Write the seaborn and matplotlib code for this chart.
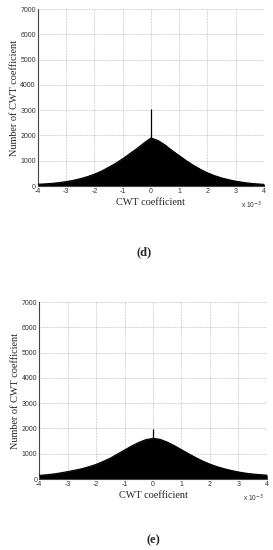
import matplotlib
matplotlib.use("Agg")
import matplotlib.pyplot as plt
import seaborn as sns
import numpy as np
import pandas as pd

# CWT coefficient (units of 1e-3)
coef = [-4.0, -3.75, -3.5, -3.25, -3.0, -2.75, -2.5, -2.25, -2.0, -1.75, -1.5, -1.25,
        -1.0, -0.75, -0.5, -0.25, 0.0, 0.25, 0.5, 0.75, 1.0, 1.25, 1.5, 1.75,
        2.0, 2.25, 2.5, 2.75, 3.0, 3.25, 3.5, 3.75, 4.0]
counts_d = [70, 85, 105, 135, 175, 225, 290, 370, 470, 590, 740, 900,
            1080, 1280, 1480, 1700, 1900, 1800, 1620, 1400, 1200, 1000, 820, 660,
            520, 410, 320, 250, 190, 145, 110, 85, 65]
counts_e = [145, 170, 200, 245, 295, 350, 410, 490, 580, 700, 830, 990,
            1150, 1310, 1450, 1560, 1610, 1570, 1460, 1320, 1160, 1000, 850, 710,
            590, 490, 410, 340, 280, 235, 200, 175, 155]
spike_pos = 0.0
spike_d = 3050
spike_e = 1990
x_ticks = [-4, -3, -2, -1, 0, 1, 2, 3, 4]
y_ticks = [0, 1000, 2000, 3000, 4000, 5000, 6000, 7000]
panel_labels = ["(d)", "(e)"]

sns.set_style("white")
plt.rcParams['font.family'] = ['Liberation Sans', 'DejaVu Sans']

fig = plt.figure(figsize=(2.73, 5.5), dpi=100)
ax_d = fig.add_axes([0.139, 0.6618, 0.828, 0.3218])
ax_e = fig.add_axes([0.144, 0.1290, 0.833, 0.3218])

serif = ['Liberation Serif', 'DejaVu Serif']

for ax, counts, spike, lab, lab_pos in [
        (ax_d, counts_d, spike_d, panel_labels[0], (0.527, 0.542)),
        (ax_e, counts_e, spike_e, panel_labels[1], (0.560, 0.018))]:
    df = pd.DataFrame({"coef": coef, "count": counts})
    ax.fill_between(df["coef"], 0, df["count"], facecolor="black",
                    edgecolor="black", linewidth=0.6, zorder=2)
    sns.lineplot(data=df, x="coef", y="count", ax=ax, color="black",
                 linewidth=0.8, zorder=3)
    ax.vlines(spike_pos, 0, spike, color="black", linewidth=0.9, zorder=3)
    ax.set_xlim(-4, 4)
    ax.set_ylim(0, 7000)
    ax.set_xticks(x_ticks)
    ax.set_yticks(y_ticks)
    ax.set_xticklabels([str(t) for t in x_ticks])
    ax.set_yticklabels([str(t) for t in y_ticks])
    ax.grid(True, linestyle=(0, (1, 1.2)), color="#a8a8a8", linewidth=0.5)
    ax.set_axisbelow(True)
    ax.tick_params(axis="both", labelsize=5, direction="in", length=2,
                   width=0.5, pad=1.5, colors="#333333")
    for s in ["top", "right"]:
        ax.spines[s].set_visible(False)
    for s in ["left", "bottom"]:
        ax.spines[s].set_color("#444444")
        ax.spines[s].set_linewidth(0.8)
    ax.set_xlabel("CWT coefficient", family=serif, fontsize=7.4, labelpad=2)
    ax.set_ylabel("Number of CWT coefficient", family=serif, fontsize=7.4, labelpad=1)
    ax.text(0.99, -0.11, r"x 10$^{-3}$", transform=ax.transAxes, fontsize=4.8,
            ha="right", va="center", color="#333333")
    fig.text(lab_pos[0], lab_pos[1], lab, family=serif, fontsize=9,
             fontweight="bold", ha="center", va="center")

fig.savefig("out.png", dpi=100)
